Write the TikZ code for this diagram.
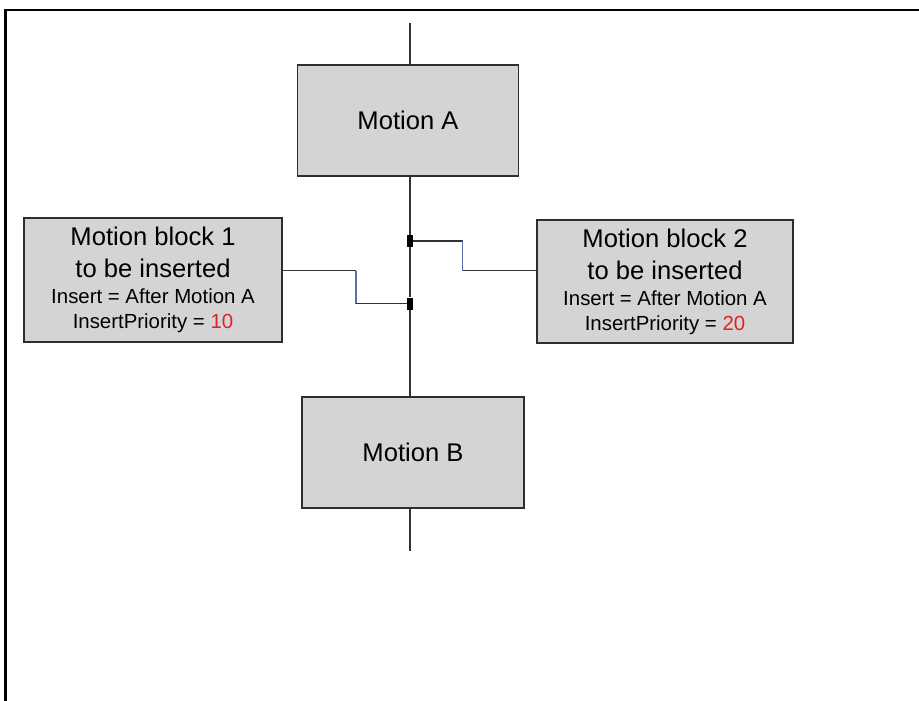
\documentclass[tikz,border=0pt]{standalone}
\usepackage{fontspec}
\setmainfont{Liberation Sans}
\definecolor{boxfill}{HTML}{D4D4D4}
\definecolor{boxline}{HTML}{2E2E2E}
\definecolor{linegray}{HTML}{333333}
\definecolor{bluish}{HTML}{5A6EAA}
\definecolor{prio}{HTML}{E0202A}
\tikzset{
  mbox/.style={draw=boxline, line width=1.6pt, fill=boxfill, inner sep=0pt, align=center, font=\fontsize{25.6}{32}\selectfont},
  marker/.style={fill=black, draw=none, minimum width=5.5pt, minimum height=12pt, inner sep=0pt},
  conn/.style={draw=linegray, line width=1.5pt},
  vconn/.style={draw=bluish, line width=1.5pt},
}
\newcommand{\smallrows}{\fontsize{20.4}{25.5}\selectfont}
\begin{document}
\begin{tikzpicture}[x=1pt,y=-1pt]
\useasboundingbox (0,0) rectangle (919,701);
% frame
\draw[line width=2.4pt, black] (5.5,701) -- (5.5,9.8) -- (919,9.8);
% nodes
\node[mbox, minimum width=221pt, minimum height=111pt] (A) at (408,120.5) {Motion A};
\node[mbox, minimum width=222pt, minimum height=111pt] (B) at (413,452.5) {Motion B};
\node[mbox, minimum width=258pt, minimum height=124pt] (b1) at (153,280)
  {Motion block 1\\to be inserted\\[-6pt]\smallrows Insert = After Motion A\\[-7pt]\smallrows InsertPriority = \textcolor{prio}{10}};
\node[mbox, minimum width=256pt, minimum height=123pt] (b2) at (665,281.5)
  {Motion block 2\\to be inserted\\[-6pt]\smallrows Insert = After Motion A\\[-7pt]\smallrows InsertPriority = \textcolor{prio}{20}};
\coordinate (top) at (409.8,23);
\coordinate (bot) at (409.8,551);
\node[marker] (m1) at (409.8,241) {};
\node[marker] (m2) at (409.8,303.5) {};
% main vertical line
\draw[conn] (top) -- (top |- A.north);
\draw[conn] (top |- A.south) -- (m1.north);
\draw[conn] (m1.south) -- (m2.north);
\draw[conn] (m2.south) -- (top |- B.north);
\draw[conn] (top |- B.south) -- (bot);
% connector from block 1
\coordinate (c1a) at (356,270.7);
\coordinate (c1b) at (356,303.5);
\draw[conn] (b1.east |- c1a) -- (c1a);
\draw[vconn] (c1a) -- (c1b);
\draw[conn] (c1b) -- (m2.west);
% connector to block 2
\coordinate (c2a) at (462.7,241);
\coordinate (c2b) at (462.7,270.7);
\draw[conn] (m1.east) -- (c2a);
\draw[vconn] (c2a) -- (c2b);
\draw[conn] (c2b) -- (b2.west |- c2b);
\end{tikzpicture}
\end{document}
